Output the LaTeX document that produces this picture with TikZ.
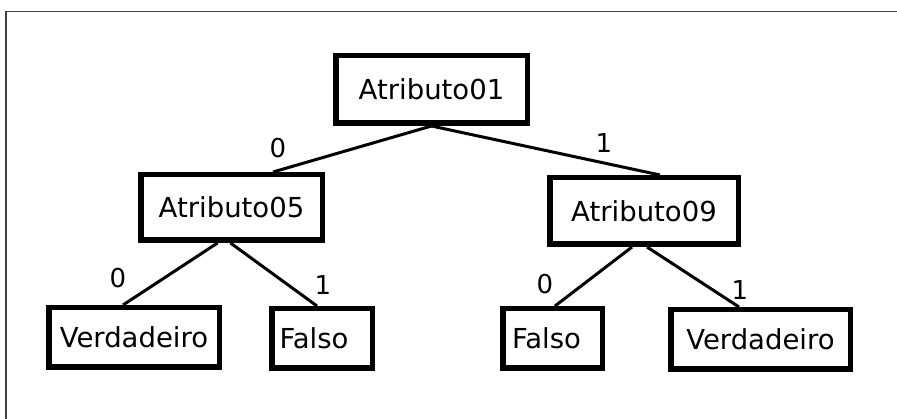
\documentclass[tikz,border=0pt]{standalone}
\usepackage{fontspec}
\setmainfont{DejaVu Sans}
\begin{document}
\begin{tikzpicture}[x=1pt,y=-1pt,
  box/.style={draw=black, line width=5.5pt, rectangle, inner sep=0pt,
    font=\fontsize{27.5}{32}\selectfont, text=black},
  edgeline/.style={draw=black, line width=3pt},
  lbl/.style={inner sep=0pt, font=\fontsize{26}{30}\selectfont, text=black},
  frameline/.style={draw=black!75, line width=1.8pt}]
\useasboundingbox (0,0) rectangle (897,419);
\draw[frameline] (897,11.5) -- (6,11.5) -- (6,419);
\node[box, minimum width=191.5pt, minimum height=67.5pt] (a01) at (431.5,89.5) {Atributo01};
\node[box, minimum width=181.5pt, minimum height=65.5pt] (a05) at (231.5,207.5) {Atributo05};
\node[box, minimum width=188.5pt, minimum height=66.5pt] (a09) at (644,211) {Atributo09};
\node[box, minimum width=170.5pt, minimum height=59.5pt] (vl) at (134,337.5) {Verdadeiro};
\node[box, minimum width=100.5pt, minimum height=59.5pt] (fl) at (322,338.5) {Falso\rule{16pt}{0pt}};
\node[box, minimum width=99.5pt, minimum height=59.5pt] (fr) at (552.5,338.5) {Falso\rule{12pt}{0pt}};
\node[box, minimum width=179.5pt, minimum height=59.5pt] (vr) at (760.5,339.5) {Verdadeiro};
\draw[edgeline] (a01.south) -- ([xshift=41.5pt]a05.north);
\draw[edgeline] (a01.south) -- ([xshift=16pt]a09.north);
\draw[edgeline] ([xshift=-14pt]a05.south) -- ([xshift=-11pt]vl.north);
\draw[edgeline] ([xshift=-1pt]a05.south) -- ([xshift=-5pt]fl.north);
\draw[edgeline] ([xshift=-12pt]a09.south) -- ([xshift=2.5pt]fr.north);
\draw[edgeline] ([xshift=3pt]a09.south) -- ([xshift=-21.5pt]vr.north);
\node[lbl] (l1) at (278,148) {0};
\node[lbl] (l2) at (604,143) {1};
\node[lbl] (l3) at (118,278) {0};
\node[lbl] (l4) at (323,285) {1};
\node[lbl] (l5) at (545,284) {0};
\node[lbl] (l6) at (740,290) {1};
\end{tikzpicture}
\end{document}
